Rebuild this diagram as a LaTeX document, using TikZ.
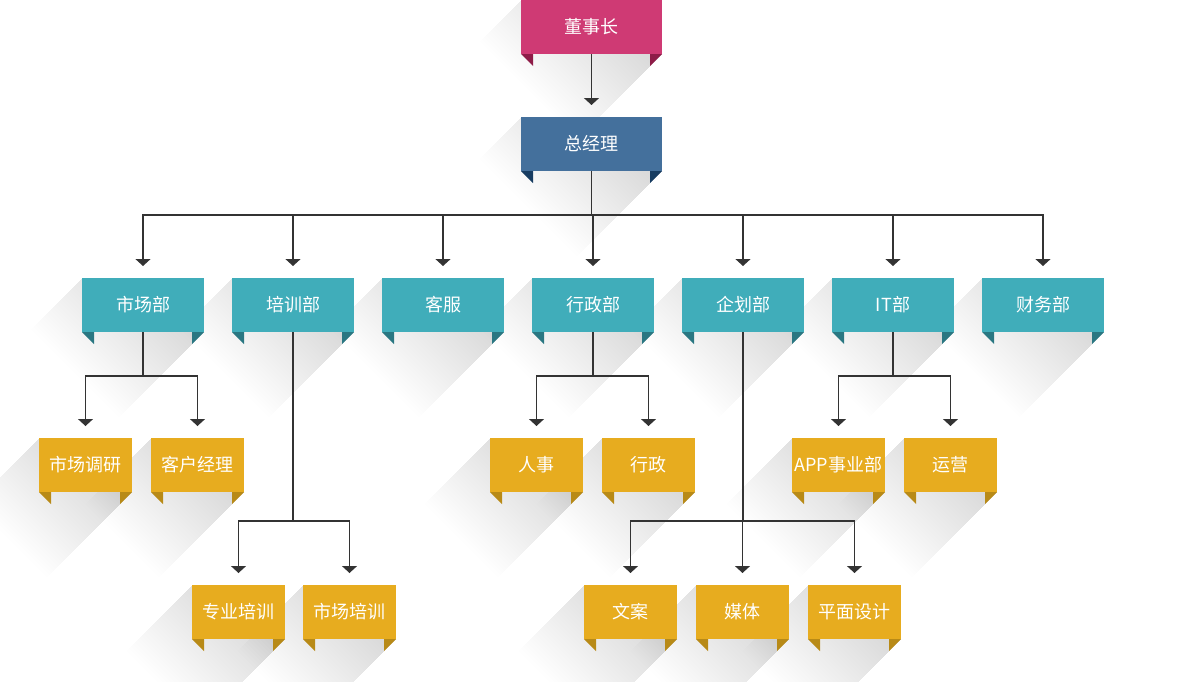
\documentclass[tikz,border=0pt]{standalone}
\usepackage{fontspec}
\newfontfamily\cjk{Noto Sans CJK SC}
\usetikzlibrary{arrows.meta}
\pgfdeclarelayer{shadowlayer}
\pgfsetlayers{shadowlayer,main}
\definecolor{cpink}{HTML}{CF3A74}
\definecolor{cpinkd}{HTML}{8E1C48}
\definecolor{cblue}{HTML}{44709C}
\definecolor{cblued}{HTML}{173C61}
\definecolor{cteal}{HTML}{40ADBA}
\definecolor{cteald}{HTML}{2A7782}
\definecolor{cyel}{HTML}{E7AC1F}
\definecolor{cyeld}{HTML}{B88A17}
\definecolor{cline}{HTML}{333333}
\tikzset{
  orgbox/.style={inner sep=0pt, outer sep=0pt, text=white, font=\cjk\fontsize{18}{18}\selectfont},
  conn/.style={draw=cline, line width=1.2pt},
  arr/.style={conn, -{Triangle[width=15pt,length=7pt]}, shorten >=12pt},
}
\def\shd{95}
\def\shlen{170}
\newcommand\obox[8]{%
  \begin{pgfonlayer}{shadowlayer}
  \begin{scope}
    \clip (#2,#3) -- ({#2+#4},#3) -- ({#2+#4},{#3+#5}) -- ({#2+#4-\shd},{#3+#5+\shd}) -- ({#2-\shd},{#3+#5+\shd}) -- ({#2-\shd},{#3+\shd}) -- cycle;
    \pgfmathsetmacro\qs{#3+#5-#2-#4}
    \pgfmathsetmacro\qa{\qs-3}
    \pgfmathsetmacro\xa{#2-\shd-10}
    \pgfmathsetmacro\xb{#2+#4+10}
    \foreach \k in {1,...,40}{
      \pgfmathsetmacro\qb{\qs+\k*\shlen/40}
      \fill[black, fill opacity=0.0038] (\xa,\xa+\qa) -- (\xb,\xb+\qa) -- (\xb,\xb+\qb) -- (\xa,\xa+\qb) -- cycle;
    }
  \end{scope}
  \end{pgfonlayer}
  \node[orgbox, fill=#6, minimum width=#4pt, minimum height=#5pt, anchor=north west] (#1) at (#2,#3) {#8};
  \fill[#7] (#1.south west) -- ++(12,0) -- ++(0,12) -- cycle;
  \fill[#7] (#1.south east) -- ++(-12,0) -- ++(0,12) -- cycle;
}
\begin{document}
\begin{tikzpicture}[x=1pt,y=-1pt]
\useasboundingbox (0,0) rectangle (1181,681);
% top
\obox{dsz}{521}{0}{141}{54}{cpink}{cpinkd}{董事长}
\obox{zjl}{521}{117}{141}{54}{cblue}{cblued}{总经理}
% teal row
\obox{sc}{82}{278}{122}{54}{cteal}{cteald}{市场部}
\obox{px}{232}{278}{122}{54}{cteal}{cteald}{培训部}
\obox{kf}{382}{278}{122}{54}{cteal}{cteald}{客服}
\obox{xz}{532}{278}{122}{54}{cteal}{cteald}{行政部}
\obox{qh}{682}{278}{122}{54}{cteal}{cteald}{企划部}
\obox{it}{832}{278}{122}{54}{cteal}{cteald}{IT部}
\obox{cw}{982}{278}{122}{54}{cteal}{cteald}{财务部}
% yellow row 1
\obox{scdy}{39}{438}{93}{54}{cyel}{cyeld}{市场调研}
\obox{khjl}{151}{438}{93}{54}{cyel}{cyeld}{客户经理}
\obox{rs}{490}{438}{93}{54}{cyel}{cyeld}{人事}
\obox{xzz}{602}{438}{93}{54}{cyel}{cyeld}{行政}
\obox{app}{792}{438}{93}{54}{cyel}{cyeld}{APP事业部}
\obox{yy}{904}{438}{93}{54}{cyel}{cyeld}{运营}
% yellow row 2
\obox{zypx}{192}{585}{93}{54}{cyel}{cyeld}{专业培训}
\obox{scpx}{303}{585}{93}{54}{cyel}{cyeld}{市场培训}
\obox{wa}{584}{585}{93}{54}{cyel}{cyeld}{文案}
\obox{mt}{696}{585}{93}{54}{cyel}{cyeld}{媒体}
\obox{pmsj}{808}{585}{93}{54}{cyel}{cyeld}{平面设计}
% connectors
\draw[arr] (dsz.south) -- (zjl.north);
\coordinate (b0) at (591.5,215);
\draw[conn] (zjl.south) -- (b0);
\foreach \c in {sc,px,kf,xz,qh,it,cw}{\draw[arr] (b0) -| (\c.north);}
\coordinate (b1) at (143,376);
\draw[conn] (sc.south) -- (b1);
\foreach \c in {scdy,khjl}{\draw[arr] (b1) -| (\c.north);}
\coordinate (b2) at (293,521);
\draw[conn] (px.south) -- (b2);
\foreach \c in {zypx,scpx}{\draw[arr] (b2) -| (\c.north);}
\coordinate (b3) at (593,376);
\draw[conn] (xz.south) -- (b3);
\foreach \c in {rs,xzz}{\draw[arr] (b3) -| (\c.north);}
\coordinate (b4) at (743,521);
\draw[conn] (qh.south) -- (b4);
\foreach \c in {wa,mt,pmsj}{\draw[arr] (b4) -| (\c.north);}
\coordinate (b5) at (893,376);
\draw[conn] (it.south) -- (b5);
\foreach \c in {app,yy}{\draw[arr] (b5) -| (\c.north);}
\end{tikzpicture}
\end{document}
